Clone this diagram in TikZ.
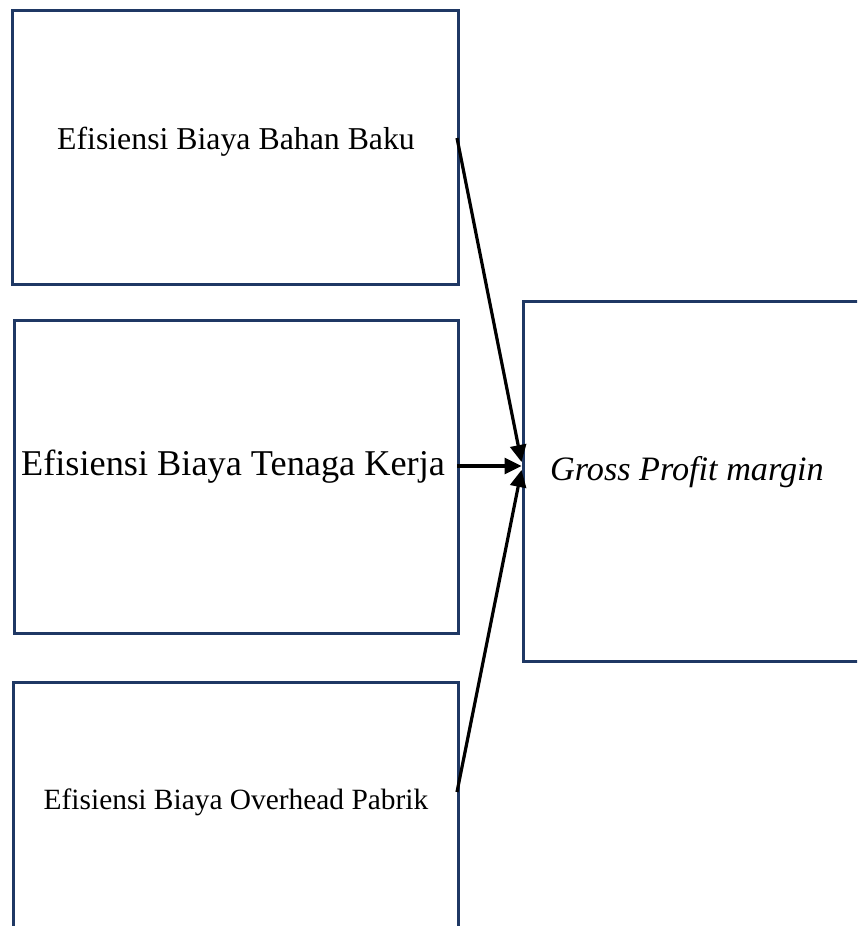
\documentclass[tikz,border=0pt]{standalone}
\usepackage{fontspec}
\setmainfont{Liberation Serif}
\usetikzlibrary{arrows.meta}
\definecolor{boxnavy}{HTML}{1F3864}
\begin{document}
\begin{tikzpicture}[x=1pt,y=-1pt,
  box/.style={draw=boxnavy,line width=3pt,inner sep=0pt,anchor=north west},
  lab/.style={inner sep=0pt,anchor=center},
  arr/.style={line width=3.2pt,-{Triangle[length=17pt,width=16pt]}}]
\useasboundingbox (0,0) rectangle (857,926);
\clip (0,0) rectangle (857,926);
% boxes
\node[box,minimum width=446pt,minimum height=274pt] (top) at (11,9) {};
\node[box,minimum width=444.5pt,minimum height=313pt] (mid) at (12.5,319) {};
\node[box,minimum width=445pt,minimum height=330pt] (bot) at (12,681) {};
\node[box,minimum width=400pt,minimum height=360pt] (gpm) at (521.5,300) {};
% labels
\node[lab,font=\fontsize{31.8}{36}\selectfont] (ttop) at (236,142) {Efisiensi Biaya Bahan Baku};
\node[lab,font=\fontsize{36.3}{40}\selectfont] (tmid) at (233,467) {Efisiensi Biaya Tenaga Kerja};
\node[lab,font=\fontsize{29.4}{34}\selectfont] (tbot) at (236,802) {Efisiensi Biaya Overhead Pabrik};
\node[lab,font=\fontsize{34.2}{38}\selectfont\itshape] (tgpm) at (687,472) {Gross Profit margin};
% connector ends
\coordinate (s1) at (457,138);
\coordinate (s2) at (457,466);
\coordinate (s3) at (457,792);
\coordinate (e1) at (521.5,462);
\coordinate (e2) at (521.5,466);
\coordinate (e3) at (521.5,470);
\draw[arr] (s1) -- (e1);
\draw[arr] (s2) -- (e2);
\draw[arr] (s3) -- (e3);
\end{tikzpicture}
\end{document}
